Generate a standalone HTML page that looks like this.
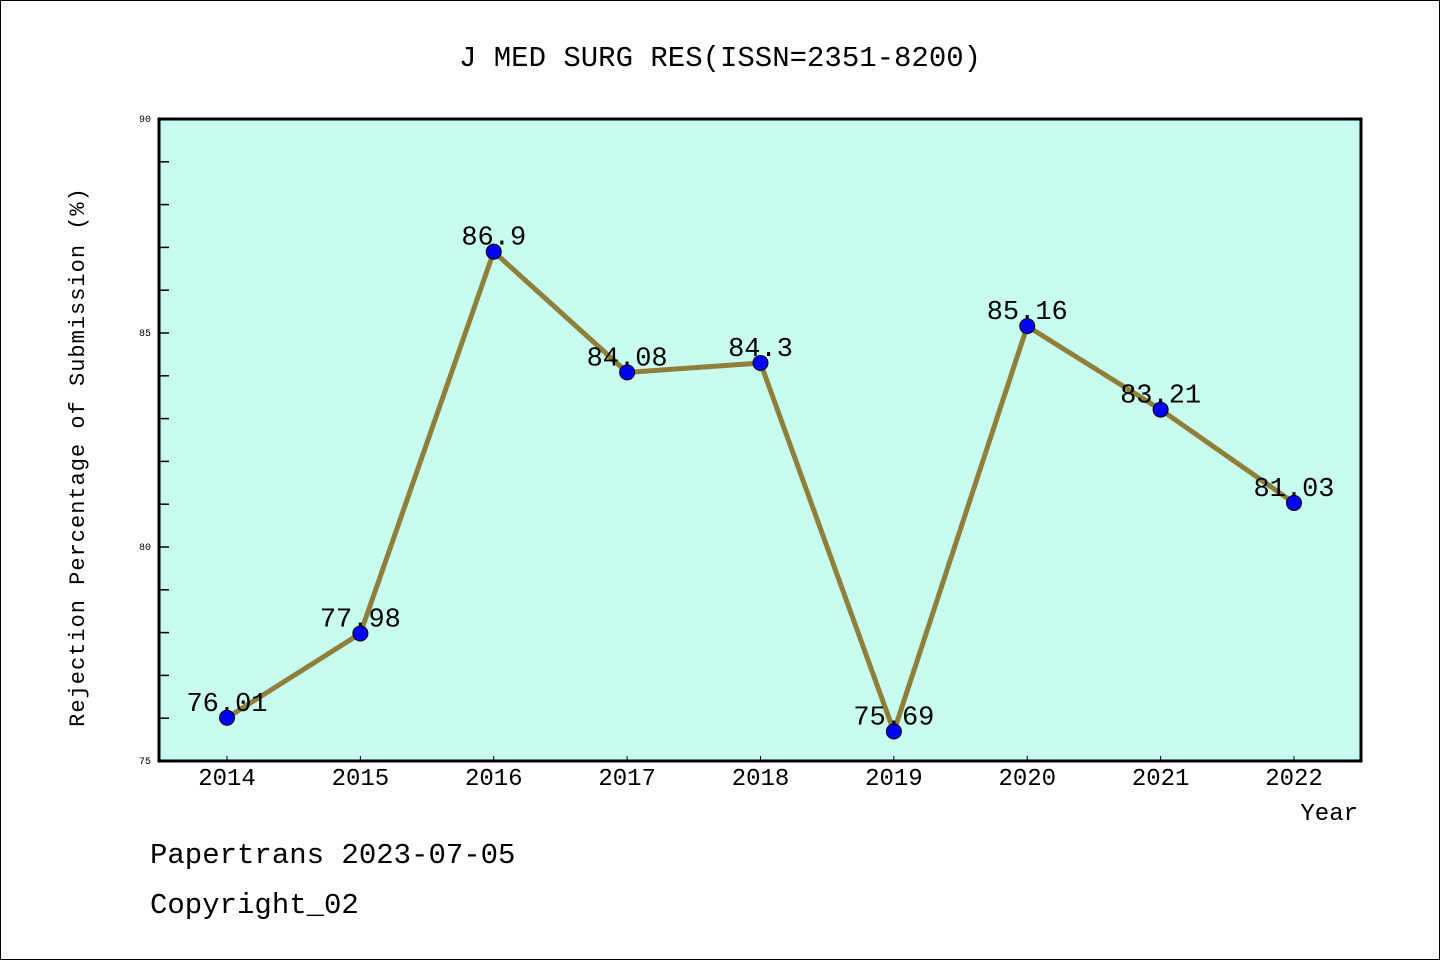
<!DOCTYPE html>
<html><head><meta charset="utf-8"><style>
html,body{margin:0;padding:0;background:#fff}
svg{display:block}
text{font-family:"Liberation Mono","DejaVu Sans Mono",monospace}
</style></head><body>
<svg id="chart" width="1440" height="960" xmlns="http://www.w3.org/2000/svg">
<rect x="0.5" y="0.5" width="1439" height="959" fill="#fff" stroke="#000"/>
<text x="720" y="66" text-anchor="middle" font-size="29">J MED SURG RES(ISSN=2351-8200)</text>
<rect x="159" y="119" width="1202" height="642" fill="#c8fcee" stroke="#000" stroke-width="3"/>
<g id="yticks"></g><g id="xticks"></g>
<g id="series"></g>
<text transform="translate(84,457) rotate(-90)" text-anchor="middle" font-size="22" letter-spacing="1">Rejection Percentage of Submission (%)</text>
<text x="1358" y="820" text-anchor="end" font-size="24">Year</text>
<text x="150" y="863" font-size="29">Papertrans 2023-07-05</text>
<text x="150" y="913" font-size="29">Copyright_02</text>
</svg>
<script>
const years = ["2014","2015","2016","2017","2018","2019","2020","2021","2022"];
const rates = [76.01, 77.98, 86.9, 84.08, 84.3, 75.69, 85.16, 83.21, 81.03];
const rateLabels = ["76.01","77.98","86.9","84.08","84.3","75.69","85.16","83.21","81.03"];
const yTickLabels = ["75","80","85","90"];
const NS="http://www.w3.org/2000/svg";
const yMin=75,yMax=90,plotTop=119,plotBot=761;
function yScale(v){return plotBot-(v-yMin)/(yMax-yMin)*(plotBot-plotTop);}
function xScale(i){return 227+i*(1294-227)/(years.length-1);}
function mk(t,a,p){const e=document.createElementNS(NS,t);for(const k in a)e.setAttribute(k,a[k]);p.appendChild(e);return e;}
const yt=document.getElementById('yticks');
for(let v=yMin;v<=yMax;v++){
  const l=mk('line',{x1:159,x2:169,y1:yScale(v),y2:yScale(v),stroke:'#000','stroke-width':1.5},yt);
  
  
}
yTickLabels.forEach(s=>{
  const t=mk('text',{x:151,y:yScale(+s)+3,'text-anchor':'end','font-size':10},yt);
  t.textContent=s;
  
  
});
const xt=document.getElementById('xticks');
years.forEach((yr,i)=>{
  const l=mk('line',{x1:xScale(i),x2:xScale(i),y1:761,y2:756,stroke:'#000','stroke-width':1},xt);
  
  
  const t=mk('text',{x:xScale(i),y:785,'text-anchor':'middle','font-size':24},xt);
  t.textContent=yr;
  
  
});
const s=document.getElementById('series');
const pl=mk('polyline',{points:rates.map((v,i)=>xScale(i)+','+yScale(v)).join(' '),fill:'none',stroke:'#8f7f3a','stroke-width':5},s);


rates.forEach((v,i)=>{
  const c=mk('circle',{cx:xScale(i),cy:yScale(v),r:7.5,fill:'#0000ff',stroke:'#000','stroke-width':1},s);
  
  
  const t=mk('text',{x:xScale(i),y:yScale(v)-7,'text-anchor':'middle','font-size':27},s);
  t.textContent=rateLabels[i];
  
  
});
</script>
</body></html>
